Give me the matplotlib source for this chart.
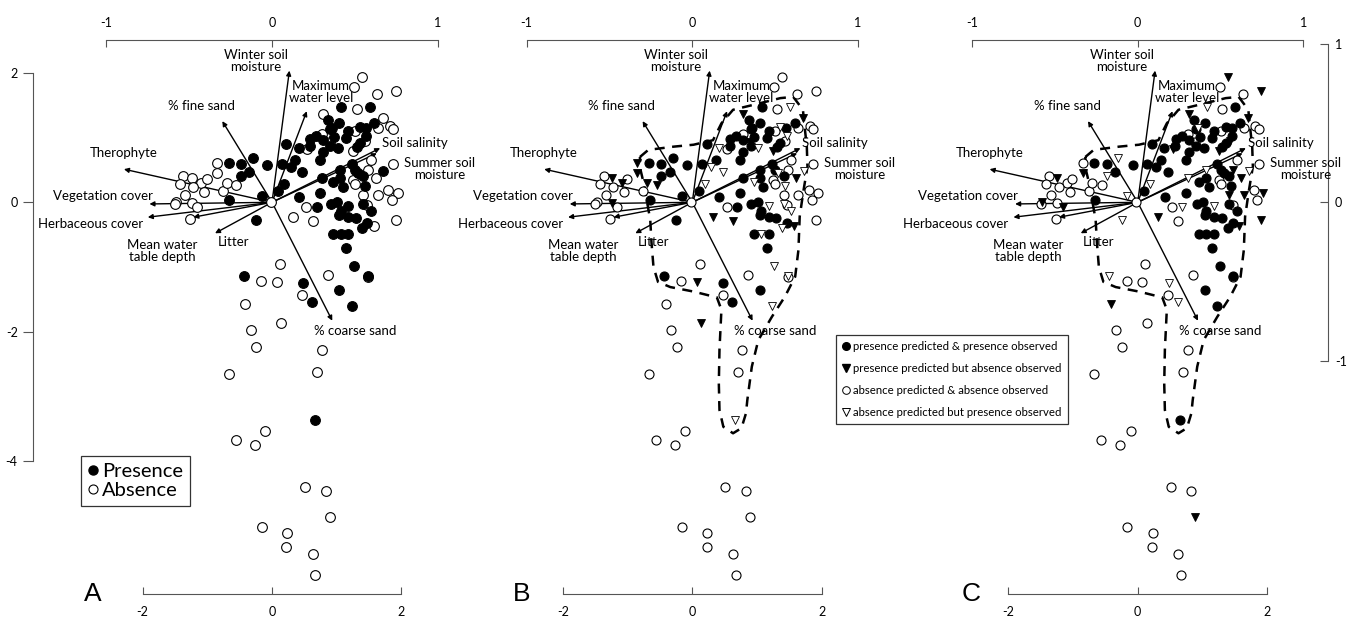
import matplotlib.pyplot as plt
from matplotlib.lines import Line2D
import numpy as np

plt.rcParams['font.family'] = ['Lato', 'DejaVu Sans']
plt.rcParams['axes.unicode_minus'] = False

# site scores (ordination axes 1 & 2), sites where the species was present
pres_x = [-0.67, -0.48, -0.30, -0.08, -0.48, -0.35, -0.66, -0.16, 0.15, 0.22,
          0.41, 0.36, 0.29, 0.19, 0.10, 0.47, 0.59, 0.68, 0.87, 1.04,
          0.93, 1.07, 1.51, 1.18, 0.96, 1.15, 1.36, 1.45, 1.58, 1.36,
          0.79, 0.74, 1.02, 1.05, 1.23, 1.28, 1.33, 1.41, 1.44, 1.72,
          0.74, 1.10, 0.42, 0.95, 0.78, 1.46, 1.31, 0.90, -0.25, 0.69,
          0.91, 1.01, 1.18, 1.06, 1.04, 1.18, 1.30, 1.53, 1.39, 1.47,
          1.41, 0.95, 1.06, 1.18, 1.15, 1.27, 1.48, 1.04, 1.23, 0.48,
          0.62, -0.44, 0.66, 0.58, 0.79, 0.90, 1.05]
pres_y = [0.60, 0.59, 0.68, 0.58, 0.41, 0.47, 0.04, 0.10, 0.59, 0.90,
          0.84, 0.65, 0.55, 0.29, 0.17, 0.47, 0.98, 1.02, 1.27, 1.23,
          1.15, 1.48, 1.47, 1.10, 1.01, 1.00, 1.17, 1.15, 1.22, 0.91,
          0.77, 0.65, 0.84, 0.50, 0.59, 0.50, 0.45, 0.40, 0.25, 0.49,
          0.15, 0.23, 0.08, 0.32, 0.37, 1.02, 0.85, 1.14, -0.28, -0.07,
          -0.03, 0.01, -0.06, -0.13, -0.20, -0.23, -0.25, -0.13, -0.39, -0.32,
          -0.03, -0.49, -0.49, -0.49, -0.70, -0.98, -1.14, -1.36, -1.60, -1.25,
          -1.54, -1.14, -3.36, 0.87, 0.96, 0.87, 0.37]

# sites where the species was absent
abs_x = [1.39, 1.27, 1.62, 1.91, 1.31, 0.79, 1.71, 1.82, 1.87, 1.64,
         0.54, 0.78, 0.89, 1.28, 1.43, 1.25, 1.53, 1.87, 1.48, 1.60,
         1.25, 1.28, 1.41, 1.64, 1.80, 1.94, 1.85, -0.85, -0.85, -1.37,
         -1.24, -1.42, -1.09, -1.22, -1.01, -1.05, -0.76, -0.70, -0.55, -1.34,
         -1.48, -1.24, -1.16, -1.27, -1.50, 0.32, 0.53, 0.63, 1.47, 1.57,
         1.91, 1.48, 0.86, 0.47, 0.12, -0.17, 0.07, -0.41, 0.14, -0.33,
         -0.24, 0.77, -0.67, 0.70, -0.11, -0.56, -0.27, 0.51, 0.83, 0.89,
         -0.16, 0.23, 0.22, 0.63, 0.67, -0.02]
abs_y = [1.93, 1.78, 1.67, 1.72, 1.44, 1.36, 1.30, 1.18, 1.14, 1.15,
         0.83, 1.05, 0.93, 1.10, 0.95, 0.79, 0.65, 0.59, 0.50, 0.37,
         0.34, 0.29, 0.12, 0.12, 0.19, 0.15, 0.04, 0.60, 0.45, 0.40,
         0.37, 0.29, 0.30, 0.23, 0.36, 0.16, 0.18, 0.30, 0.27, 0.11,
         0.01, -0.01, -0.08, -0.26, -0.03, -0.23, -0.07, -0.29, -0.04, -0.37,
         -0.28, -1.16, -1.12, -1.43, -0.95, -1.22, -1.23, -1.57, -1.86, -1.98,
         -2.24, -2.29, -2.66, -2.62, -3.53, -3.67, -3.75, -4.40, -4.46, -4.87,
         -5.02, -5.11, -5.32, -5.44, -5.76, 0.00]

# model predictions (1 = presence predicted), panel B and panel C
pred_b_pres = [1, 1, 1, 1, 1, 1, 1, 1, 1, 1,
               0, 1, 0, 0, 1, 0, 1, 1, 1, 1,
               1, 1, 0, 1, 1, 1, 0, 1, 1, 1,
               1, 1, 0, 1, 1, 1, 0, 1, 0, 0,
               1, 1, 1, 0, 1, 0, 1, 1, 1, 1,
               1, 1, 0, 1, 1, 1, 1, 0, 0, 1,
               0, 1, 0, 1, 1, 0, 0, 1, 0, 1,
               1, 1, 0, 1, 1, 1, 1]
pred_b_abs = [0, 0, 0, 0, 0, 1, 1, 0, 0, 0,
              0, 0, 1, 0, 0, 1, 0, 0, 0, 1,
              0, 0, 0, 0, 0, 0, 0, 1, 1, 0,
              1, 0, 1, 0, 0, 0, 0, 1, 1, 0,
              0, 1, 0, 0, 0, 1, 0, 1, 0, 1,
              0, 0, 0, 0, 0, 0, 1, 0, 1, 0,
              0, 0, 0, 0, 0, 0, 0, 0, 0, 0,
              0, 0, 0, 0, 0, 0]
pred_c_pres = [1, 1, 0, 1, 0, 1, 1, 0, 1, 1,
               1, 1, 1, 0, 1, 1, 1, 1, 1, 1,
               0, 0, 1, 1, 1, 1, 1, 1, 1, 1,
               1, 1, 1, 0, 1, 1, 1, 1, 1, 0,
               1, 1, 1, 1, 0, 1, 1, 1, 0, 0,
               1, 1, 0, 1, 1, 1, 1, 1, 1, 1,
               1, 1, 1, 1, 1, 1, 1, 1, 1, 0,
               0, 0, 1, 1, 1, 1, 1]
pred_c_abs = [1, 0, 0, 1, 0, 1, 1, 0, 0, 0,
              1, 0, 0, 0, 1, 1, 0, 0, 1, 1,
              0, 0, 1, 1, 0, 1, 0, 0, 1, 0,
              1, 0, 0, 0, 0, 0, 0, 0, 0, 0,
              1, 0, 1, 0, 0, 1, 0, 0, 0, 1,
              1, 0, 0, 0, 0, 0, 0, 1, 0, 0,
              0, 0, 0, 0, 0, 0, 0, 0, 0, 1,
              0, 0, 0, 0, 0, 0]

# environmental variable loadings (top / right axis units)
var_names = ["Winter soil\nmoisture", "Maximum\nwater level", "% fine sand", "Therophyte",
             "Vegetation cover", "Herbaceous cover", "Mean water\ntable depth", "Litter",
             "% coarse sand", "Soil salinity", "Summer soil\nmoisture"]
var_x = [0.105, 0.21, -0.30, -0.894, -0.74, -0.75, -0.475, -0.344, 0.364, 0.653, 0.633]
var_y = [0.795, 0.55, 0.49, 0.20, -0.01, -0.09, -0.09, -0.187, -0.715, 0.327, 0.296]

# predicted-presence outline (dashed) in panels B and C
outline_x = [-0.81, -0.68, -0.29, 0.02, 0.32, 0.45, 0.63, 1.00, 1.36, 1.56,
             1.71, 1.73, 1.77, 1.78, 1.72, 1.66, 1.64, 1.59, 1.43, 1.23,
             1.02, 0.92, 0.85, 0.83, 0.76, 0.63, 0.48, 0.42, 0.41, 0.42,
             0.45, 0.38, 0.02, -0.34, -0.53, -0.60, -0.63, -0.65, -0.75, -0.80, -0.81]
outline_y = [0.70, 0.81, 0.86, 0.89, 0.96, 1.22, 1.43, 1.52, 1.61, 1.63,
             1.43, 1.22, 0.86, 0.55, 0.19, -0.22, -0.74, -1.15, -1.46, -1.77,
             -2.13, -2.54, -3.06, -3.26, -3.49, -3.57, -3.47, -3.21, -2.80, -2.28,
             -1.66, -1.47, -1.38, -1.31, -1.23, -1.00, -0.63, -0.27, 0.29, 0.50, 0.70]

# label positions in plot units (layout only)
label_pos = [(-0.25, 2.18), (0.76, 1.70), (-1.09, 1.49), (-2.29, 0.76), (-2.62, 0.10),
             (-2.81, -0.34), (-1.69, -0.75), (-0.60, -0.62), (1.28, -1.99), (2.21, 0.92),
             (2.59, 0.52)]

W, H = 1355, 621
SC = 64.7          # pixels per plot unit
ARROW = 2.56       # plot units per loading unit
AX_GREY = '#555555'
TICK_FS = 9

fig = plt.figure(figsize=(W / 100, H / 100), dpi=100)

pres_x, pres_y = np.array(pres_x), np.array(pres_y)
abs_x, abs_y = np.array(abs_x), np.array(abs_y)


def setup(ax, left_px, right_px, org_px):
    ax.set_xlim((left_px - org_px) / SC, (right_px - org_px) / SC)
    ax.set_ylim((202.3 - 594) / SC, (202.3 - 40) / SC)
    ax.patch.set_alpha(0)
    for s in ['top', 'right', 'left']:
        ax.spines[s].set_visible(False)
    ax.spines['bottom'].set_bounds(-2, 2)
    ax.spines['bottom'].set_color(AX_GREY)
    ax.set_xticks([-2, 0, 2])
    ax.tick_params(axis='x', direction='in', length=5, pad=9, labelsize=TICK_FS, color=AX_GREY)
    ax.set_yticks([])
    top = ax.secondary_xaxis('top', functions=(lambda v: v / ARROW, lambda v: v * ARROW))
    top.set_xticks([-1, 0, 1])
    top.spines['top'].set_bounds(-1, 1)
    top.spines['top'].set_color(AX_GREY)
    top.tick_params(direction='in', length=5, pad=8, labelsize=TICK_FS, color=AX_GREY)

    for name, vx, vy, (tx, ty) in zip(var_names, var_x, var_y, label_pos):
        ax.annotate('', xy=(vx * ARROW, vy * ARROW), xytext=(0, 0),
                    arrowprops=dict(arrowstyle='-|>', color='k', lw=1.0,
                                    mutation_scale=7, shrinkA=0, shrinkB=0), zorder=2)
        ax.text(tx, ty, name, ha='center', va='center', fontsize=9.5, linespacing=1.0)


axA = fig.add_axes([33 / W, 27 / H, (445 - 33) / W, 554 / H])
axB = fig.add_axes([455 / W, 27 / H, (880 - 455) / W, 554 / H])
axC = fig.add_axes([900 / W, 27 / H, (1328 - 900) / W, 554 / H])
setup(axA, 33, 445, 272.0)
setup(axB, 455, 880, 692.3)
setup(axC, 900, 1328, 1137.7)

# panel A: observed presence / absence
axA.spines['left'].set_visible(True)
axA.spines['left'].set_bounds(-4, 2)
axA.spines['left'].set_color(AX_GREY)
axA.set_yticks([-4, -2, 0, 2])
axA.tick_params(axis='y', direction='out', length=7, pad=4, labelsize=TICK_FS, color=AX_GREY)
axA.plot(abs_x, abs_y, 'o', ms=7, mfc='white', mec='k', mew=0.8, ls='none', zorder=3)
axA.plot(pres_x, pres_y, 'o', ms=7, mfc='k', mec='k', mew=0.8, ls='none', zorder=3)

# panels B and C: predicted vs observed
for ax, pp, pa in [(axB, pred_b_pres, pred_b_abs), (axC, pred_c_pres, pred_c_abs)]:
    pp, pa = np.array(pp) == 1, np.array(pa) == 1
    ax.plot(outline_x, outline_y, color='k', lw=1.8, ls=(0, (4, 3)), zorder=2.5)
    ax.plot(abs_x[~pa], abs_y[~pa], 'o', ms=6.5, mfc='white', mec='k', mew=0.8, ls='none', zorder=3)
    ax.plot(abs_x[pa], abs_y[pa], 'v', ms=6, mfc='k', mec='k', mew=0.6, ls='none', zorder=3)
    ax.plot(pres_x[pp], pres_y[pp], 'o', ms=6.5, mfc='k', mec='k', mew=0.8, ls='none', zorder=3)
    ax.plot(pres_x[~pp], pres_y[~pp], 'v', ms=6, mfc='white', mec='k', mew=0.6, ls='none', zorder=3)

right = axC.secondary_yaxis('right', functions=(lambda v: v / 2.45, lambda v: v * 2.45))
right.set_yticks([-1, 0, 1])
right.spines['right'].set_bounds(-1, 1)
right.spines['right'].set_color(AX_GREY)
right.tick_params(direction='in', length=6, pad=5, labelsize=TICK_FS, color=AX_GREY)

for lbl, px in [('A', 93), ('B', 522), ('C', 971)]:
    fig.text(px / W, 1 - 594 / H, lbl, ha='center', va='center', fontsize=19,
             family='Liberation Sans')

hA = [Line2D([], [], marker='o', ls='none', ms=6.5, mfc='k', mec='k'),
      Line2D([], [], marker='o', ls='none', ms=6.5, mfc='white', mec='k', mew=0.8)]
legA = axA.legend(hA, ['Presence', 'Absence'], loc='upper left',
                  bbox_to_anchor=(81 / W, 1 - 456 / H), bbox_transform=fig.transFigure,
                  fancybox=False, edgecolor='#333333', fontsize=14.5, handlelength=0.5,
                  handletextpad=0.2, borderaxespad=0, labelspacing=0.1, borderpad=0.35,
                  framealpha=1)
legA.get_frame().set_linewidth(0.9)

hB = [Line2D([], [], marker='o', ls='none', ms=5.5, mfc='k', mec='k'),
      Line2D([], [], marker='v', ls='none', ms=5.5, mfc='k', mec='k'),
      Line2D([], [], marker='o', ls='none', ms=5.5, mfc='white', mec='k', mew=0.7),
      Line2D([], [], marker='v', ls='none', ms=5.5, mfc='white', mec='k', mew=0.7)]
legB = fig.legend(hB, ['presence predicted & presence observed',
                       'presence predicted but absence observed',
                       'absence predicted & absence observed',
                       'absence predicted but presence observed'],
                  loc='upper left', bbox_to_anchor=(836 / W, 1 - 335 / H),
                  fancybox=False, edgecolor='#333333', fontsize=8.2, handlelength=0.6,
                  handletextpad=0.35, borderaxespad=0, labelspacing=0.95, borderpad=0.55,
                  framealpha=1)
legB.get_frame().set_linewidth(0.9)

fig.savefig('out.png', dpi=100)
